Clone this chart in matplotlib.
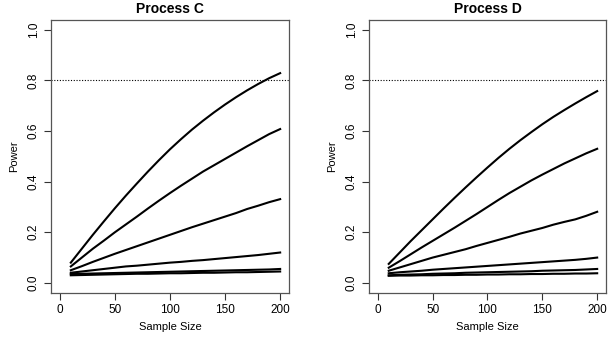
import numpy as np
import matplotlib
matplotlib.use("Agg")
import matplotlib.pyplot as plt

plt.rcParams["font.family"] = ["Liberation Sans", "DejaVu Sans"]

# sample sizes
n = [10, 20, 30, 40, 50, 60, 70, 80, 90, 100,
     110, 120, 130, 140, 150, 160, 170, 180, 190, 200]

# Process C power curves (top to bottom)
c1 = [0.080, 0.135, 0.190, 0.243, 0.295, 0.345, 0.393, 0.440, 0.485, 0.528,
      0.568, 0.606, 0.641, 0.674, 0.705, 0.734, 0.761, 0.786, 0.809, 0.829]
c2 = [0.065, 0.100, 0.135, 0.167, 0.200, 0.231, 0.262, 0.294, 0.325, 0.355,
      0.384, 0.412, 0.440, 0.465, 0.490, 0.515, 0.540, 0.564, 0.588, 0.608]
c3 = [0.050, 0.066, 0.083, 0.099, 0.115, 0.130, 0.145, 0.160, 0.175, 0.190,
      0.205, 0.220, 0.234, 0.248, 0.262, 0.276, 0.292, 0.305, 0.319, 0.331]
c4 = [0.040, 0.045, 0.050, 0.055, 0.060, 0.065, 0.068, 0.072, 0.076, 0.080,
      0.083, 0.087, 0.090, 0.094, 0.098, 0.102, 0.106, 0.110, 0.115, 0.120]
c5 = [0.035, 0.036, 0.037, 0.038, 0.039, 0.040, 0.041, 0.042, 0.043, 0.044,
      0.045, 0.046, 0.047, 0.048, 0.049, 0.050, 0.051, 0.052, 0.053, 0.055]
c6 = [0.030, 0.031, 0.032, 0.033, 0.034, 0.035, 0.036, 0.036, 0.037, 0.038,
      0.038, 0.039, 0.040, 0.040, 0.041, 0.042, 0.042, 0.043, 0.044, 0.045]

# Process D power curves (top to bottom)
d1 = [0.075, 0.120, 0.165, 0.208, 0.251, 0.294, 0.336, 0.377, 0.417, 0.456,
      0.494, 0.530, 0.564, 0.596, 0.627, 0.656, 0.683, 0.709, 0.734, 0.758]
d2 = [0.060, 0.086, 0.113, 0.140, 0.166, 0.192, 0.218, 0.245, 0.272, 0.300,
      0.328, 0.355, 0.380, 0.405, 0.428, 0.450, 0.472, 0.492, 0.512, 0.530]
d3 = [0.048, 0.061, 0.074, 0.087, 0.100, 0.111, 0.122, 0.133, 0.146, 0.158,
      0.170, 0.182, 0.195, 0.206, 0.217, 0.230, 0.241, 0.251, 0.265, 0.281]
d4 = [0.038, 0.042, 0.045, 0.048, 0.052, 0.055, 0.058, 0.061, 0.064, 0.067,
      0.070, 0.073, 0.076, 0.079, 0.082, 0.085, 0.088, 0.091, 0.095, 0.100]
d5 = [0.030, 0.032, 0.033, 0.034, 0.036, 0.037, 0.038, 0.040, 0.041, 0.042,
      0.043, 0.044, 0.045, 0.046, 0.048, 0.049, 0.050, 0.051, 0.053, 0.055]
d6 = [0.028, 0.029, 0.029, 0.030, 0.030, 0.031, 0.031, 0.032, 0.032, 0.033,
      0.033, 0.034, 0.034, 0.035, 0.035, 0.036, 0.036, 0.037, 0.037, 0.038]

panels = [
    ("Process C", [c1, c2, c3, c4, c5, c6]),
    ("Process D", [d1, d2, d3, d4, d5, d6]),
]
target = 0.8

fig = plt.figure(figsize=(6.09, 3.39), dpi=100)
boxes = [[0.0837, 0.1357, 0.3908, 0.806], [0.6059, 0.1357, 0.3891, 0.806]]

for (title, curves), box in zip(panels, boxes):
    ax = fig.add_axes(box)
    for y in curves:
        ax.plot(n, y, color="black", lw=1.5)
    ax.axhline(target, color="black", lw=0.8, ls=(0, (1, 1.5)))
    ax.set_xlim(-8, 208)
    ax.set_ylim(-0.04, 1.04)
    ax.set_xticks([0, 50, 100, 150, 200])
    ax.set_yticks([0.0, 0.2, 0.4, 0.6, 0.8, 1.0])
    ax.set_yticklabels(["0.0", "0.2", "0.4", "0.6", "0.8", "1.0"],
                       rotation=90, va="center")
    ax.tick_params(direction="out", length=5, width=0.8, colors="#333333",
                   labelsize=8.5, labelcolor="black", pad=3)
    for s in ax.spines.values():
        s.set_color("#555555")
        s.set_linewidth(0.9)
    ax.set_title(title, fontsize=10, fontweight="bold", pad=5)
    ax.set_xlabel("Sample Size", fontsize=8, labelpad=4)
    ax.set_ylabel("Power", fontsize=8, labelpad=6)

fig.savefig("out.png", dpi=100)
